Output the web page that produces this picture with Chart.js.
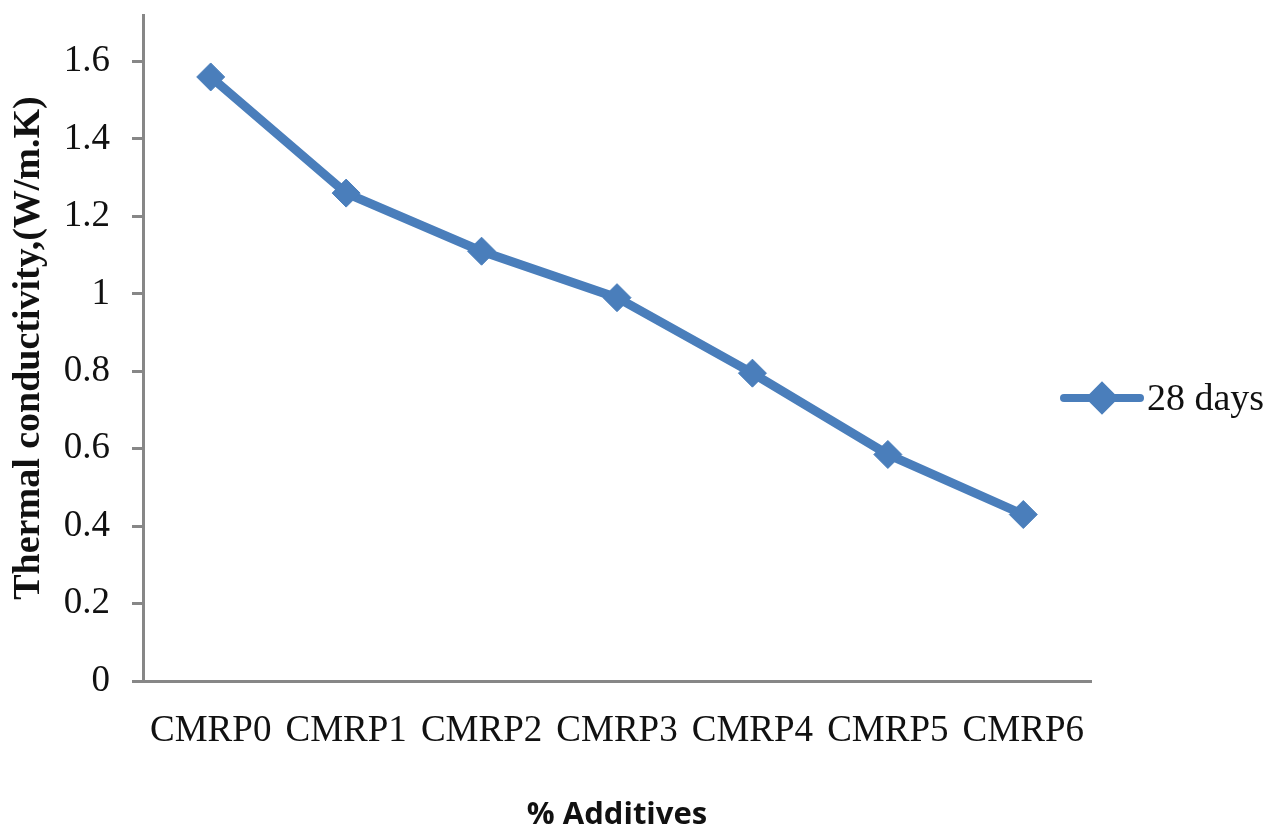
<!DOCTYPE html>
<html>
<head>
<meta charset="utf-8">
<title>Thermal conductivity at 28 days</title>
<script src="https://cdn.jsdelivr.net/npm/chart.js@4"></script>
<style>
  html, body { margin: 0; padding: 0; background: #ffffff; }
  #wrap { position: relative; width: 1277px; height: 831px; }
</style>
</head>
<body>
<div id="wrap"><canvas id="chart" width="1277" height="831"></canvas></div>
<script>
// Mix designs and measured thermal conductivity (W/m.K) after 28 days
const categories = ['CMRP0', 'CMRP1', 'CMRP2', 'CMRP3', 'CMRP4', 'CMRP5', 'CMRP6'];
const conductivity28 = [1.56, 1.26, 1.11, 0.99, 0.795, 0.585, 0.43];
const seriesName = '28 days';
const yTickValues = [0, 0.2, 0.4, 0.6, 0.8, 1, 1.2, 1.4, 1.6];
const yAxisTitle = 'Thermal conductivity,(W/m.K)';
const xAxisTitle = '% Additives';

const BLUE = '#4A7EBB';
const AXIS = '#878787';
const SERIF = '"Liberation Serif", "Times New Roman", serif';

// Legend drawn to the right of the plot: a line sample with a diamond marker
const sideLegend = {
  id: 'sideLegend',
  afterDraw(chart) {
    const ctx = chart.ctx;
    const ds = chart.data.datasets[0];
    const y = 398;
    ctx.save();
    ctx.strokeStyle = ds.borderColor;
    ctx.lineWidth = 8;
    ctx.lineCap = 'round';
    ctx.beginPath();
    ctx.moveTo(1064, y);
    ctx.lineTo(1140, y);
    ctx.stroke();
    Chart.helpers.drawPoint(ctx, {
      pointStyle: 'rectRot', radius: 11, borderWidth: 1
    }, 1102, y);
    ctx.fillStyle = ds.pointBackgroundColor;
    ctx.fill();
    ctx.fillStyle = '#111';
    ctx.font = '38px ' + SERIF;
    ctx.textAlign = 'left';
    ctx.textBaseline = 'middle';
    ctx.fillText(ds.label, 1147, y + 2);
    ctx.restore();
  }
};

new Chart(document.getElementById('chart'), {
  type: 'line',
  data: {
    labels: categories,
    datasets: [{
      label: seriesName,
      data: conductivity28,
      borderColor: BLUE,
      backgroundColor: BLUE,
      borderWidth: 9,
      tension: 0,
      pointStyle: 'rectRot',
      pointRadius: 14,
      pointBackgroundColor: BLUE,
      pointBorderColor: BLUE,
      pointBorderWidth: 1
    }]
  },
  options: {
    responsive: false,
    animation: false,
    events: [],
    layout: { padding: { top: 13, right: 186, bottom: 0, left: 0 } },
    plugins: {
      legend: { display: false },
      tooltip: { enabled: false }
    },
    scales: {
      x: {
        offset: true,
        grid: { display: false, drawTicks: false },
        border: { display: true, color: AXIS, width: 3 },
        ticks: {
          color: '#111',
          padding: 28,
          maxRotation: 0,
          autoSkip: false,
          font: { family: SERIF, size: 37 }
        },
        title: {
          display: true,
          text: xAxisTitle,
          color: '#111',
          padding: { top: 0, bottom: 0 },
          font: { family: '"Open Sans", "Noto Sans", sans-serif', size: 31, weight: 'bold', lineHeight: 1 }
        },
        afterFit(scale) { scale.height = 150; }
      },
      y: {
        min: 0,
        max: 1.72,
        afterBuildTicks(scale) {
          scale.ticks = yTickValues.map(v => ({ value: v }));
        },
        grid: {
          drawOnChartArea: false,
          drawTicks: true,
          tickLength: 11,
          color: AXIS,
          lineWidth: 3
        },
        border: { display: true, color: AXIS, width: 3 },
        ticks: {
          color: '#111',
          padding: 22,
          font: { family: SERIF, size: 37 },
          callback: v => String(Number(v.toFixed(1)))
        },
        title: {
          display: true,
          text: yAxisTitle,
          color: '#111',
          padding: { top: 6, bottom: 0 },
          font: { family: SERIF, size: 38, weight: 'bold', lineHeight: 1.2 }
        },
        afterFit(scale) {
          scale.width = 143;
          scale.paddingTop = 0;
          scale.paddingBottom = 0;
        }
      }
    }
  },
  plugins: [sideLegend]
});
</script>
</body>
</html>
